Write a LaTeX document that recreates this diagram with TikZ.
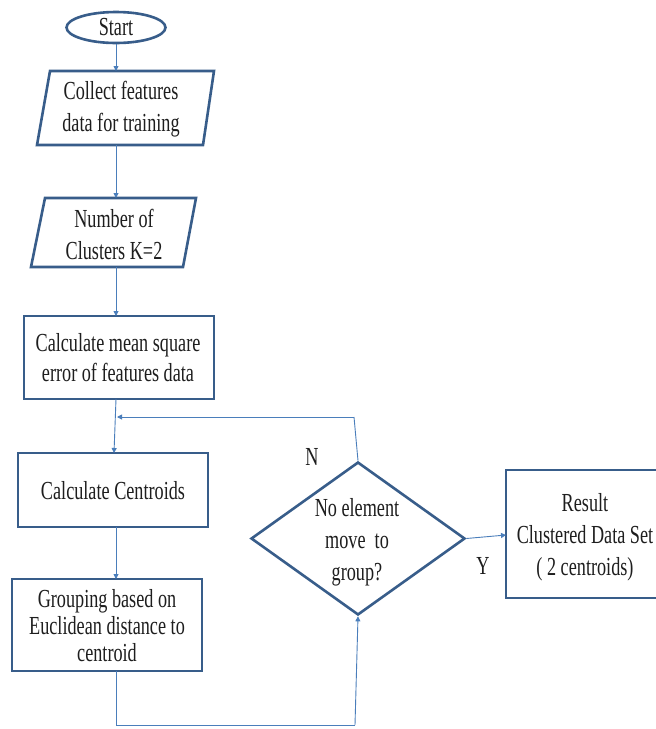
\documentclass[tikz,border=0pt]{standalone}
\usepackage{fontspec}
\setmainfont{Liberation Serif}[FakeStretch=0.70]
\usetikzlibrary{shapes.geometric,arrows.meta}
\definecolor{shapeblue}{HTML}{385D8A}
\definecolor{lineblue}{HTML}{4A7EBB}
\definecolor{txt}{HTML}{1E1E1E}
\begin{document}
\begin{tikzpicture}[x=1pt,y=-1pt,
  shapeline/.style={draw=shapeblue,line width=2.6pt,line join=miter},
  boxnode/.style={shapeline,rectangle,inner sep=0pt},
  label/.style={text=txt,align=center,inner sep=0pt,font=\fontsize{26}{30}\selectfont},
  conn/.style={draw=lineblue,line width=0.9pt,-{Triangle[width=5pt,length=5pt]}},
  plain/.style={draw=lineblue,line width=0.9pt}]
\useasboundingbox (0,0) rectangle (656,729);
\fill[white] (0,0) rectangle (656,729);

% Start
\node[shapeline,ellipse,minimum width=99pt,minimum height=31pt,inner sep=0pt] (start) at (116,27.5) {};
\node[label] (starttext) at (116,27.5) {Start};

% Parallelogram 1
\draw[shapeline] (50,71) -- (214,71) -- (203,145) -- (37,145) -- cycle;
\coordinate (p1top) at (116,71);
\coordinate (p1bot) at (116,145);
\node[label,font=\fontsize{26}{32}\selectfont] (p1) at (121,109) {Collect features\\data for training};

% Parallelogram 2
\draw[shapeline] (45,198) -- (196,198) -- (183,267) -- (31,267) -- cycle;
\coordinate (p2top) at (116,198);
\coordinate (p2bot) at (116,267);
\node[label,font=\fontsize{26}{32}\selectfont] (p2) at (114,234) {Number of\\Clusters K=2};

% Rect 1
\node[boxnode,minimum width=190pt,minimum height=83pt] (r1) at (119,357.5) {};
\node[label] (r1text) at (118,358) {Calculate mean square\\error of features data};

% Rect 2
\node[boxnode,minimum width=190pt,minimum height=74pt] (r2) at (113,490) {};
\node[label] (r2text) at (113,491) {Calculate Centroids};

% Rect 3
\node[boxnode,minimum width=190pt,minimum height=92pt] (r3) at (107,625) {};
\node[label,font=\fontsize{26}{27}\selectfont] (r3text) at (107,626) {Grouping based on\\Euclidean distance to\\centroid};

% Diamond
\node[shapeline,diamond,minimum width=214pt,minimum height=153pt,inner sep=0pt] (dec) at (358,538.5) {};
\node[label,font=\fontsize{26}{32}\selectfont] (dectext) at (357,542) {No element\\move~ to\\group?};

% Result rect
\draw[shapeline] (662,470) -- (506,470) -- (506,598) -- (662,598);
\coordinate (r4left) at (506,535);
\node[label,font=\fontsize{26}{32}\selectfont] (r4text) at (585,537) {Result\\Clustered Data Set\\( 2 centroids)};

% Labels
\node[label] (nlab) at (312,457) {N};
\node[label] (ylab) at (483,566) {Y};

% Connectors
\draw[conn] (start.south) -- (p1top);
\draw[conn] (p1bot) -- (p2top);
\draw[conn] (p2bot) -- (116,316);
\draw[conn] (116,399) -- (114,453);
\draw[conn] (116,527) -- (116,579);
\coordinate (loopa) at (354,417);
\coordinate (loopb) at (117,417);
\draw[plain] (dec.north) -- (loopa);
\draw[conn] (loopa) -- (loopb);
\coordinate (bota) at (116,725);
\coordinate (botb) at (355,725);
\draw[plain] (116,671) -- (bota) -- (botb);
\draw[conn] (botb) -- (dec.south);
\draw[conn] (dec.east) -- (r4left);
\end{tikzpicture}
\end{document}
